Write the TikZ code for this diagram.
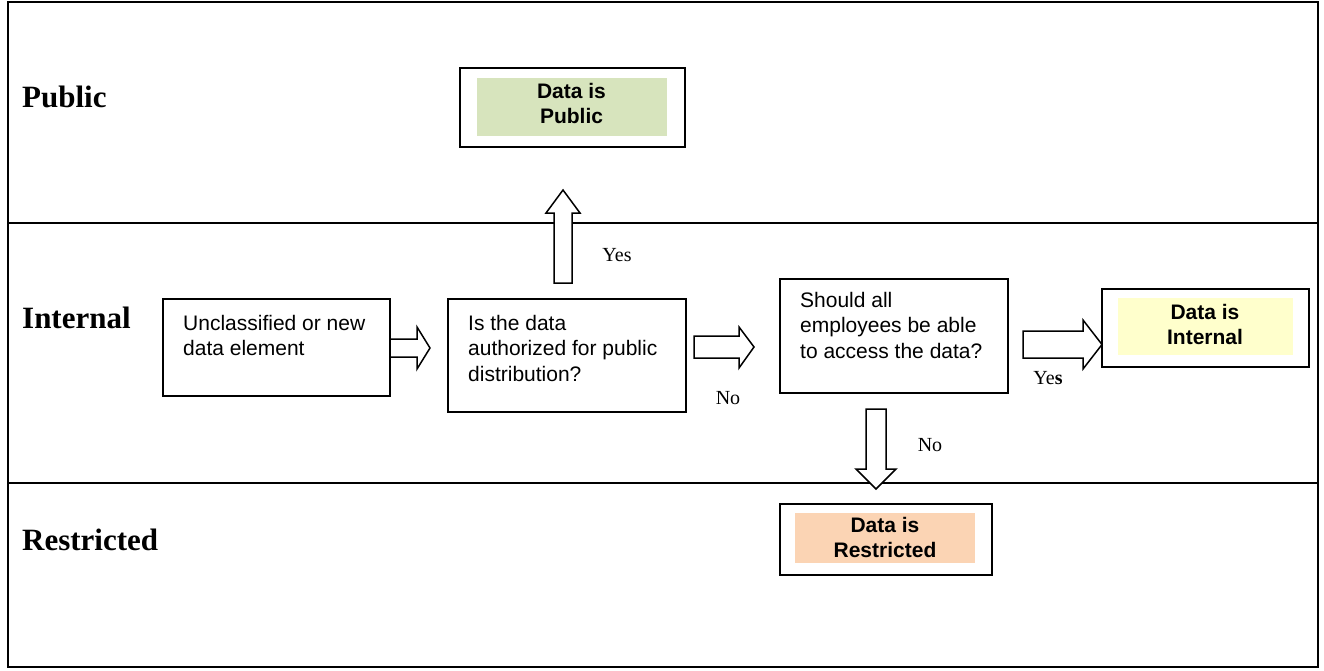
\documentclass[tikz,border=0pt]{standalone}
\usepackage{fontspec}
\setmainfont{Liberation Serif}
\newfontfamily\arialf{Liberation Sans}
\definecolor{pubgreen}{HTML}{D7E4BD}
\definecolor{intyellow}{HTML}{FFFFCC}
\definecolor{respeach}{HTML}{FBD4B4}
\begin{document}
\begin{tikzpicture}[x=1pt,y=-1pt,
  frameline/.style={draw, line width=1.4pt},
  box/.style={draw, line width=1.6pt, inner sep=0pt, anchor=north west},
  boxtext/.style={inner sep=0pt, anchor=north west, align=left, font=\arialf\fontsize{21}{25.5}\selectfont},
  fillbox/.style={inner sep=0pt, anchor=north west},
  filltext/.style={inner sep=0pt, align=center, font=\arialf\bfseries\fontsize{21}{25}\selectfont},
  tier/.style={inner sep=0pt, anchor=west, font=\bfseries\fontsize{31}{35}\selectfont},
  ans/.style={inner sep=0pt, font=\fontsize{20}{24}\selectfont},
  barrow/.style={draw, line width=1.5pt, fill=white, line join=miter}]
\useasboundingbox (0,0) rectangle (1324,670);
% frame and lanes
\draw[frameline] (8,2) rectangle (1318,667);
\draw[frameline] (8,223) -- (1318,223);
\draw[frameline] (8,483) -- (1318,483);
% tier labels
\node[tier] (lpub) at (22,97) {Public};
\node[tier] (lint) at (22,318) {Internal};
\node[tier] (lres) at (22,540) {Restricted};
% Data is Public
\node[box, minimum width=225pt, minimum height=79pt] (pub) at (459,67) {};
\node[fillbox, fill=pubgreen, minimum width=190pt, minimum height=58pt] (pubf) at (477,78) {};
\node[filltext] (pubt) at (571.5,103.5) {Data is\\Public};
% start box
\node[box, minimum width=227pt, minimum height=97pt] (start) at (162,298) {};
\node[boxtext] (startt) at (183,315) {Unclassified or new\\data element};
% question 1
\node[box, minimum width=238pt, minimum height=113pt] (q1) at (447,298) {};
\node[boxtext] (q1t) at (468,315) {Is the data\\authorized for public\\distribution?};
% question 2
\node[box, minimum width=228pt, minimum height=114pt] (q2) at (779,278) {};
\node[boxtext] (q2t) at (800,292) {Should all\\employees be able\\to access the data?};
% Data is Internal
\node[box, minimum width=207pt, minimum height=78pt] (int) at (1101,288) {};
\node[fillbox, fill=intyellow, minimum width=175pt, minimum height=57pt] (intf) at (1118,298) {};
\node[filltext] (intt) at (1205,324.5) {Data is\\Internal};
% Data is Restricted
\node[box, minimum width=212pt, minimum height=71pt] (res) at (779,503) {};
\node[fillbox, fill=respeach, minimum width=180pt, minimum height=50pt] (resf) at (795,513) {};
\node[filltext] (rest) at (885,537.5) {Data is\\Restricted};
% block arrows
\draw[barrow] (390,339) -- (417,339) -- (417,327) -- (430,348) -- (417,369) -- (417,357) -- (390,357) -- cycle;
\draw[barrow] (694,336) -- (739,336) -- (739,327) -- (754,347) -- (739,368) -- (739,358) -- (694,358) -- cycle;
\draw[barrow] (1023,331) -- (1083,331) -- (1083,320) -- (1102,344.5) -- (1083,369) -- (1083,358) -- (1023,358) -- cycle;
\draw[barrow] (554,283) -- (554,213) -- (546,213) -- (563,190) -- (580,213) -- (572,213) -- (572,283) -- cycle;
\draw[barrow] (866,409) -- (866,469) -- (856,469) -- (876,489) -- (896,469) -- (886,469) -- (886,409) -- cycle;
% answers
\node[ans] (yes1) at (617,255) {Yes};
\node[ans] (no1) at (728,398) {No};
\node[ans] (yes2) at (1048,378) {Ye\textbf{s}};
\node[ans] (no2) at (930,445) {No};
\end{tikzpicture}
\end{document}
